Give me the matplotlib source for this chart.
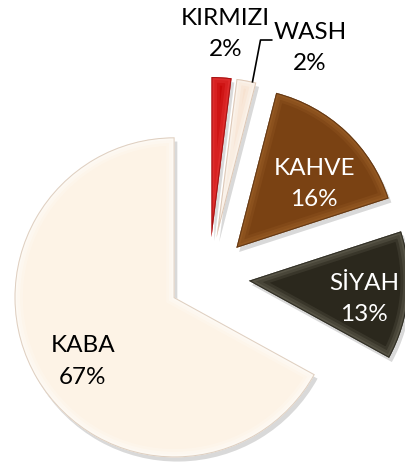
import matplotlib
matplotlib.use("Agg")
import matplotlib.pyplot as plt
import matplotlib.patheffects as pe
import numpy as np
from matplotlib.patches import Wedge

# ---- data ----
categories = ["KIRMIZI", "WASH", "KAHVE", "SİYAH", "KABA"]
values = [2, 2, 16, 13, 67]
pct_labels = ["2%", "2%", "16%", "13%", "67%"]
colors = ["#C80A0A", "#F7E2D0", "#7A4213", "#2B281D", "#FDF3E6"]
edge_colors = ["#7A0000", "#C8AA92", "#3E1F08", "#111009", "#C9B29E"]
highlight = ["#F04848", "#FFFFFF", "#A8692F", "#7A7666", "#FFFFFF"]
text_colors = ["#000000", "#000000", "#FFFFFF", "#FFFFFF", "#000000"]
explode = [0.25, 0.25, 0.25, 0.25, 0.25]
# label placement relative to each exploded wedge (distance in radii, angle in deg)
label_dist = [1.27, 1.32, 0.63, 0.73, 0.70]
label_ang = [86.0, 63.8, 39.4, -9.0, 214.9]

plt.rcParams['font.family'] = ['Lato', 'DejaVu Sans']

fig = plt.figure(figsize=(4.06, 4.66), dpi=100)
ax = fig.add_axes([0, 0, 1, 1])
ax.axis("off")

wedges, _ = ax.pie(values, colors=colors, startangle=90, counterclock=False,
                   explode=explode, radius=1.0,
                   wedgeprops=dict(linewidth=0))
ax.set_xlim(-1.306, 1.231)
ax.set_ylim(-1.181, 1.731)
ax.set_aspect("auto")

for i, w in enumerate(wedges):
    w.set_path_effects([pe.SimplePatchShadow(offset=(2, -3), shadow_rgbFace="#000000", alpha=0.15),
                        pe.Normal()])
    # bevel: soft inner highlight band and thin darker rim, clipped to the wedge
    for lw, al in [(12, 0.18), (8, 0.25), (4, 0.3)]:
        band = Wedge(w.center, w.r, w.theta1, w.theta2, facecolor="none",
                     edgecolor=highlight[i], linewidth=lw, alpha=al, zorder=3)
        band.set_clip_path(w)
        ax.add_patch(band)
    rim = Wedge(w.center, w.r, w.theta1, w.theta2, facecolor="none",
                edgecolor=edge_colors[i], linewidth=1.4, alpha=0.6, zorder=4)
    rim.set_clip_path(w)
    ax.add_patch(rim)

    cx, cy = w.center
    a = np.deg2rad(label_ang[i])
    tx = cx + label_dist[i] * w.r * np.cos(a)
    ty = cy + label_dist[i] * w.r * np.sin(a)
    ax.text(tx, ty, f"{categories[i]}\n{pct_labels[i]}", ha="center", va="center",
            fontsize=17.5, color=text_colors[i], linespacing=1.6, zorder=6)

# leader line for WASH
w = wedges[1]
cx, cy = w.center
a0 = np.deg2rad(77.0)
x0, y0 = cx + w.r * np.cos(a0), cy + w.r * np.sin(a0)
x1, y1 = x0 + 0.05, 1.481
x2 = x1 + 0.07
ax.plot([x0, x1, x2], [y0, y1, y1], color="black", linewidth=1.2, zorder=5)

fig.savefig("out.png", dpi=100)
